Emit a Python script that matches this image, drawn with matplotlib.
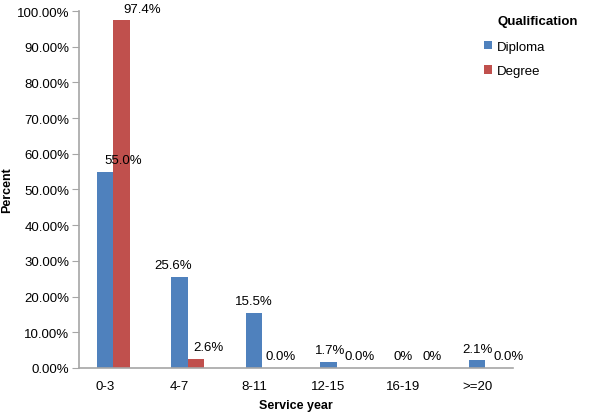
import numpy as np
import matplotlib.pyplot as plt

plt.rcParams['font.family'] = ['Liberation Sans', 'DejaVu Sans']

# data
categories = ["0-3", "4-7", "8-11", "12-15", "16-19", ">=20"]
diploma = [55.0, 25.6, 15.5, 1.7, 0.0, 2.1]
degree = [97.4, 2.6, 0.0, 0.0, 0.0, 0.0]
diploma_labels = ["55.0%", "25.6%", "15.5%", "1.7%", "0%", "2.1%"]
degree_labels = ["97.4%", "2.6%", "0.0%", "0.0%", "0%", "0.0%"]

blue = "#4F81BD"
red = "#C0504D"

fig = plt.figure(figsize=(6, 4.14), dpi=100)
ax = fig.add_axes([0.132, 0.109, 0.723, 0.862])

x = np.arange(len(categories))
w = 0.22
ax.bar(x, diploma, w, color=blue, label="Diploma")
ax.bar(x + w, degree, w, color=red, label="Degree")

# value labels (horizontal nudges in points, as placed in the original)
dx_blue = [13, -5, 0, 1, 0, 0]
dx_red = [15, 9, 7, 11, 9, 11]
for xi, v, lab, dx in zip(x, diploma, diploma_labels, dx_blue):
    ax.annotate(lab, (xi, v), xytext=(dx, 4), textcoords="offset points",
                ha="center", va="bottom", fontsize=9.5)
for xi, v, lab, dx in zip(x + w, degree, degree_labels, dx_red):
    ax.annotate(lab, (xi, v), xytext=(dx, 4), textcoords="offset points",
                ha="center", va="bottom", fontsize=9.5)

ax.set_xlim(-0.35, 5.48)
ax.set_ylim(0, 100)
ax.set_yticks(np.arange(0, 101, 10))
ax.set_yticklabels([f"{t:.2f}%" for t in np.arange(0, 101, 10)], fontsize=9.5)
ax.set_xticks(x)
ax.set_xticklabels(categories, fontsize=9.5)

for s in ["top", "right"]:
    ax.spines[s].set_visible(False)
for s in ["left", "bottom"]:
    ax.spines[s].set_color("#A6A6A6")
    ax.spines[s].set_linewidth(1.2)
ax.tick_params(axis="y", length=5, color="#A6A6A6", pad=2)
ax.tick_params(axis="x", length=0, pad=9)

ax.set_xlabel("Service year", fontsize=9, fontweight="bold", va="center")
ax.xaxis.set_label_coords(0.5, -0.104)
ax.set_ylabel("Percent", fontsize=9, fontweight="bold", va="center")
ax.yaxis.set_label_coords(-0.165, 0.5)

ax.legend(frameon=False, fontsize=9.5,
          handlelength=0.6, handleheight=0.6, handletextpad=0.4,
          labelspacing=0.95, loc="upper left", borderaxespad=0,
          bbox_to_anchor=(0.921, 0.932))
fig.text(498 / 600, 1 - 22 / 414, "Qualification", fontsize=9.5,
         fontweight="bold", ha="left", va="center")

fig.savefig("out.png", dpi=100)
